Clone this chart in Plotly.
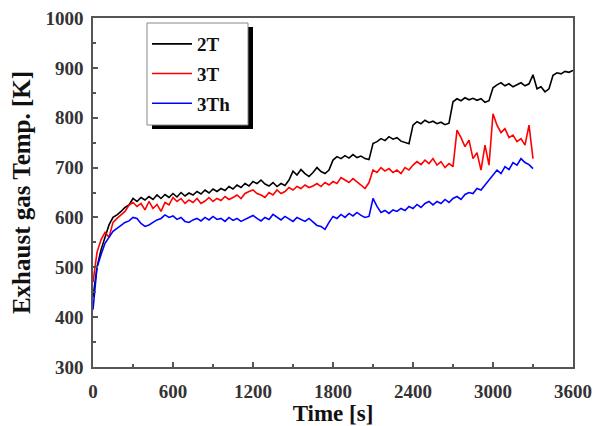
import plotly.graph_objects as go

# time axes (s)
time_2T = list(range(0, 3601, 30))
time_3T = list(range(0, 3301, 30))
time_3Th = list(range(0, 3301, 30))

temp_2T = [440, 500, 535, 560, 585, 600, 605, 612, 620, 625,
           638, 632, 640, 635, 642, 636, 645, 638, 646, 640,
           648, 641, 650, 643, 649, 645, 652, 647, 655, 649,
           657, 652, 658, 654, 662, 657, 665, 660, 668, 663,
           672, 668, 675, 667, 663, 670, 662, 668, 664, 675,
           693, 685, 696, 688, 682, 690, 700, 692, 688, 695,
           715, 722, 718, 724, 719, 726, 720, 723, 718, 716,
           748, 752, 758, 754, 762, 757, 760, 753, 751, 748,
           785, 792, 788, 795, 790, 793, 788, 791, 786, 789,
           832, 838, 834, 840, 836, 839, 835, 838, 831, 834,
           860, 866, 870, 864, 868, 862, 866, 870, 864, 868,
           886, 858, 862, 852, 858, 885, 890, 888, 893, 891,
           895]

temp_3T = [470, 530, 555, 570, 560, 590, 598, 605, 612, 625,
           630, 622, 628, 615, 632, 618, 626, 612, 630, 625,
           640, 632, 638, 628, 635, 630, 638, 628, 633, 640,
           632, 638, 634, 642, 636, 640, 645, 638, 648, 652,
           655, 648, 645, 640, 650, 645, 655, 648, 652, 660,
           655, 662, 658, 665, 660, 663, 668, 662, 670, 665,
           672, 668, 680, 675, 670, 678, 672, 665, 658, 670,
           695, 690, 700, 693, 698, 690, 695, 688, 700, 695,
           705, 712, 706, 715, 708, 718, 705, 712, 700, 708,
           702, 775, 760, 742, 755, 718, 730, 695, 745, 705,
           808, 785, 770, 778, 760, 765, 752, 758, 745, 785,
           718]

temp_3Th = [415, 500, 525, 548, 560, 572, 578, 585, 590, 593,
            600, 598, 588, 582, 585, 590, 595, 598, 605, 600,
            603, 596, 600, 592, 590, 595, 598, 593, 600, 595,
            602, 596, 598, 592, 600, 594, 598, 592, 596, 600,
            604, 598, 593, 600, 596, 606, 600, 595, 602, 597,
            592, 600, 596, 592, 598, 590, 584, 582, 576, 590,
            602, 598, 606, 600, 608, 603, 610, 604, 600, 602,
            638, 622, 610, 614, 608, 615, 612, 618, 614, 622,
            618, 626, 620, 628, 632, 625, 632, 628, 636, 630,
            638, 642, 636, 646, 650, 648, 658, 655, 665, 675,
            685, 695, 688, 702, 696, 710, 705, 718, 710, 706,
            698]

x_ticks = [0, 600, 1200, 1800, 2400, 3000, 3600]
y_ticks = [300, 400, 500, 600, 700, 800, 900, 1000]

series = [("2T", time_2T, temp_2T, "#000000"),
          ("3T", time_3T, temp_3T, "#ff0000"),
          ("3Th", time_3Th, temp_3Th, "#0000ff")]

FONT = "Liberation Serif"
fig = go.Figure()
for i, (name, t, v, c) in enumerate(series):
    fig.add_trace(go.Scatter(x=t, y=v, mode="lines", name=name,
                             line=dict(color=c, width=1.6),
                             legendgroup=f"g{i}"))

W, H = 595, 426
ml, mr, mt, mb = 93, 22, 18, 59
pw, ph = W - ml - mr, H - mt - mb

def px(x):
    return (x - ml) / pw
def py(y):
    return (H - mb - y) / ph

# legend frame (pixel positions) with a drop shadow
lx0, ly0, lx1, ly1 = 147, 23, 248, 125
fig.add_shape(type="rect", xref="paper", yref="paper",
              x0=px(lx0 + 5), x1=px(lx1 + 5), y0=py(ly1 + 4), y1=py(ly0 + 4),
              fillcolor="black", line=dict(width=0), layer="above")
fig.add_shape(type="rect", xref="paper", yref="paper",
              x0=px(lx0), x1=px(lx1), y0=py(ly1), y1=py(ly0),
              fillcolor="white", line=dict(width=1, color="#888888"), layer="above")

axis_common = dict(showgrid=False, zeroline=False, showline=True, mirror=True,
                   linecolor="#555555", linewidth=1.5, ticks="inside",
                   tickcolor="#555555", tickwidth=1.5, ticklen=5, automargin=False,
                   tickfont=dict(family=FONT, size=19, color="#333333", weight="bold"))

fig.update_layout(
    width=W, height=H,
    margin=dict(l=ml, r=mr, t=mt, b=mb, pad=0),
    plot_bgcolor="white", paper_bgcolor="white",
    showlegend=True,
    legend=dict(x=px(lx0), y=py(ly0 + 2), xanchor="left", yanchor="top",
                bgcolor="rgba(0,0,0,0)", borderwidth=0, itemwidth=40,
                font=dict(family=FONT, size=19, color="#111111", weight="bold"),
                tracegroupgap=2),
    xaxis=dict(range=[0, 3600], tickvals=x_ticks,
               minor=dict(ticks="inside", ticklen=3, tickcolor="#555555", dtick=300, tick0=0),
               title=dict(text="Time [s]", standoff=5,
                          font=dict(family=FONT, size=23, color="#111111", weight="bold")),
               ticklabelstandoff=6, **axis_common),
    yaxis=dict(range=[300, 1000], tickvals=y_ticks,
               minor=dict(ticks="inside", ticklen=3, tickcolor="#555555", dtick=50, tick0=300),
               title=dict(text="Exhaust gas Temp. [K]", standoff=8,
                          font=dict(family=FONT, size=25, color="#111111", weight="bold")),
               ticklabelstandoff=4, **axis_common),
)

fig.write_html("out.html")
